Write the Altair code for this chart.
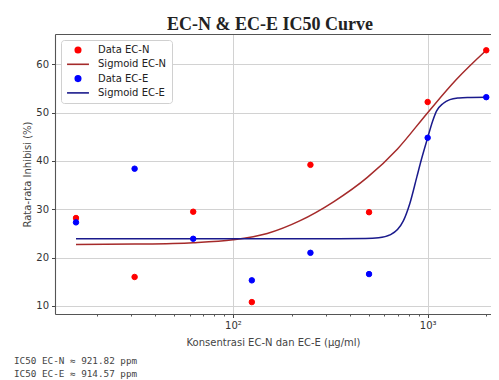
import altair as alt
import pandas as pd

# ---- data ----
conc = [15.625, 31.25, 62.5, 125, 250, 500, 1000, 2000]
inh_ecn = [28.2, 16.0, 29.5, 10.8, 39.2, 29.4, 52.2, 62.9]
inh_ece = [27.3, 38.4, 23.9, 15.3, 21.0, 16.6, 44.8, 53.2]

fit_ecn_x = [15.625, 31.25, 62.5, 100, 150, 220, 330, 490, 700, 1000, 1400, 2000]
fit_ecn_y = [22.7, 22.8, 23.1, 23.7, 25.0, 27.6, 31.6, 36.6, 42.5, 50.0, 56.8, 62.9]

fit_ece_x = [15.625, 100, 300, 480, 560, 640, 700, 750, 810, 880, 930, 1000,
             1060, 1110, 1200, 1300, 1450, 1600, 2000]
fit_ece_y = [23.9, 23.9, 23.9, 23.95, 24.1, 24.7, 25.8, 27.6, 31.2, 36.7, 40.4, 44.8,
             48.2, 50.3, 51.9, 52.7, 53.05, 53.15, 53.2]

labels = ["Data EC-N", "Sigmoid EC-N", "Data EC-E", "Sigmoid EC-E"]
colors = ["#ff0000", "#a52a2a", "#0000ff", "#1a1a8c"]
shapes = ["circle", "M-4,0H4", "circle", "M-4,0H4"]

ic50_lines = ["IC50 EC-N ≈ 921.82 ppm", "IC50 EC-E ≈ 914.57 ppm"]
x_major = [100, 1000]
x_minor = [20, 30, 40, 50, 60, 70, 80, 90, 200, 300, 400, 500, 600, 700, 800, 900, 2000]
y_ticks = [10, 20, 30, 40, 50, 60]

title_text = "EC-N & EC-E IC50 Curve"
x_title = "Konsentrasi EC-N dan EC-E (μg/ml)"
y_title = "Rata-rata Inhibisi (%)"

# ---- tables ----
pts = pd.DataFrame({
    "conc": conc + conc,
    "inh": inh_ecn + inh_ece,
    "label": ["Data EC-N"] * len(conc) + ["Data EC-E"] * len(conc),
})
fit = pd.DataFrame({
    "conc": fit_ecn_x + fit_ece_x,
    "inh": fit_ecn_y + fit_ece_y,
    "label": ["Sigmoid EC-N"] * len(fit_ecn_x) + ["Sigmoid EC-E"] * len(fit_ece_x),
    "idx": list(range(len(fit_ecn_x))) + list(range(len(fit_ece_x))),
})
notes = pd.DataFrame({"txt": ["\n".join(ic50_lines)]})

W, H = 436, 280
xdom = [12.19, 2115]
ydom = [8.34, 66.27]
xscale = alt.Scale(type="log", domain=xdom, nice=False)
yscale = alt.Scale(domain=ydom, nice=False, zero=False)

label_color = "#333333"
frame_color = "#555555"
font = "DejaVu Sans"

y_axis = alt.Axis(values=y_ticks, orient="left", tickSize=3.5, labelPadding=3, labelFontSize=10,
                  labelColor=label_color, labelFont=font, tickColor="#444",
                  domain=True, domainColor=frame_color, domainWidth=1.1,
                  grid=True, gridColor="#d2d2d2", gridWidth=1,
                  title=y_title, titleFont=font, titleFontSize=10, titleFontWeight="normal",
                  titleColor="#444", titlePadding=3)

x_axis_major = alt.Axis(values=x_major, orient="bottom", tickSize=3.5, labelPadding=3,
                        labelFontSize=10, labelColor=label_color, labelFont=font,
                        labelExpr="datum.value == 100 ? '10²' : '10³'",
                        tickColor="#444", domain=True, domainColor=frame_color, domainWidth=1.1,
                        grid=True, gridColor="#d2d2d2",
                        gridWidth=1, title=x_title, titleFont=font, titleFontSize=10,
                        titleFontWeight="normal", titleColor="#444", titlePadding=7)
x_axis_minor = alt.Axis(values=x_minor, orient="bottom", tickSize=2, labels=False,
                        tickColor="#555", domain=False, grid=False, title=None)
x_axis_top = alt.Axis(orient="top", domain=True, domainColor=frame_color, domainWidth=1.1,
                      ticks=False, labels=False, grid=False, title=None)

legend = alt.Legend(title=None, orient="top-left", offset=6, fillColor="white",
                    strokeColor="#d0d0d0", cornerRadius=3, padding=5,
                    labelFont=font, labelFontSize=10, labelColor="#222",
                    symbolSize=30, symbolStrokeWidth=1.6, symbolOffset=7,
                    labelOffset=15, rowPadding=3.3)

color_sc = alt.Scale(domain=labels, range=colors)

points = alt.Chart(pts).mark_point(filled=True, opacity=1, size=30, strokeWidth=1).encode(
    x=alt.X("conc:Q", scale=xscale, axis=x_axis_major),
    y=alt.Y("inh:Q", scale=yscale, axis=y_axis),
    fill=alt.Fill("label:N", scale=color_sc, legend=legend, sort=labels),
    stroke=alt.Stroke("label:N", scale=color_sc, legend=legend, sort=labels),
    shape=alt.Shape("label:N", scale=alt.Scale(domain=labels, range=shapes), legend=legend, sort=labels),
)

lines = alt.Chart(fit).mark_line(strokeWidth=1.5, interpolate="monotone").encode(
    x=alt.X("conc:Q", scale=xscale, axis=x_axis_minor),
    y=alt.Y("inh:Q", scale=yscale, axis=y_axis),
    stroke=alt.Stroke("label:N", scale=color_sc, legend=legend, sort=labels),
    detail="label:N",
    order="idx:Q",
)

frame_top = alt.Chart(pts).mark_point(opacity=0).encode(
    x=alt.X("conc:Q", scale=xscale, axis=x_axis_top),
    y=alt.Y("inh:Q", scale=yscale, axis=y_axis),
)

note = alt.Chart(notes).mark_text(align="left", baseline="top", font="DejaVu Sans Mono",
                                  fontSize=9.3, color="#444", lineBreak="\n", lineHeight=13).encode(
    x=alt.value(-41),
    y=alt.value(H + 43),
    text="txt:N",
)

chart = alt.layer(lines, points, frame_top, note).resolve_axis(x="independent").properties(
    width=W, height=H,
    title=alt.Title(title_text, font="Liberation Serif", fontSize=18, fontWeight="bold",
                    color="#222", anchor="middle", dx=-3, offset=0),
    autosize=alt.AutoSizeParams(type="none"),
    padding={"left": 47, "top": 26, "right": 0, "bottom": 75},
).configure_view(stroke=None).configure(background="white")

chart.save("out.html", embed_options={"renderer": "svg", "actions": False})
